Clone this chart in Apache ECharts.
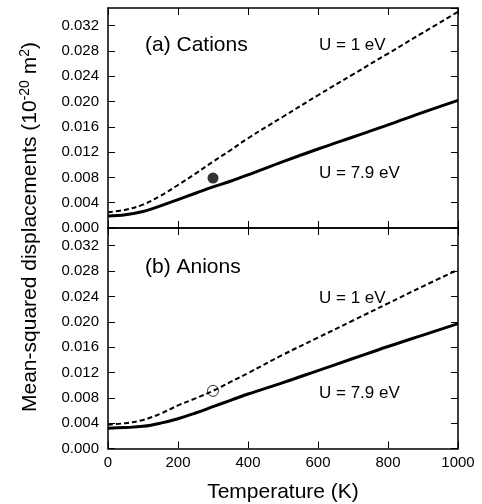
<!DOCTYPE html>
<html><head><meta charset="utf-8">
<script src="https://cdn.jsdelivr.net/npm/echarts@6/dist/echarts.min.js"></script>
<style>html,body{margin:0;padding:0;background:#fff}#c{width:482px;height:504px}</style>
</head><body><div id="c"></div>
<script>
var temps = [0,50,100,150,200,250,300,350,400,500,600,700,800,900,1000];
var cationU79 = [0.0019,0.0021,0.0026,0.0035,0.0045,0.0055,0.0065,0.0074,0.0084,0.0105,0.0125,0.0144,0.0163,0.0183,0.0202];
var cationU1  = [0.0025,0.0029,0.0037,0.0051,0.0068,0.0086,0.0105,0.0123,0.0142,0.0176,0.0210,0.0243,0.0276,0.0309,0.0342];
var anionU79  = [0.0032,0.0033,0.0035,0.0040,0.0047,0.0056,0.0066,0.0076,0.0086,0.0104,0.0123,0.0142,0.0161,0.0179,0.0197];
var anionU1   = [0.0038,0.0040,0.0045,0.0055,0.0068,0.0079,0.0091,0.0105,0.0119,0.0148,0.0175,0.0202,0.0229,0.0256,0.0282];
var cationExp = [[300,0.0079]];
var anionExp  = [[300,0.0091]];
var xTicks = [0,200,400,600,800,1000];
var yTicks = [0,0.004,0.008,0.012,0.016,0.020,0.024,0.028,0.032];

var FONT = '"Liberation Sans", Arial, Helvetica, sans-serif';
function zip(xs, ys){ return xs.map(function(x,i){return [x, ys[i]];}); }

var axLine = {show:true, onZero:false, lineStyle:{color:'#000', width:1.5}};
var tick = {show:true, inside:true, length:7, lineStyle:{color:'#000', width:1}};
function xAx(grid, pos, labels){
  return {type:'value', gridIndex:grid, position:pos, min:0, max:1000, interval:200,
    axisLine:axLine, axisTick:tick, splitLine:{show:false},
    axisLabel:{show:labels, color:'#000', fontSize:15, fontFamily:FONT, margin:7,
      formatter:function(v){ return String(v); }}};
}
function yAx(grid, pos, labels){
  return {type:'value', gridIndex:grid, position:pos, min:0, max:0.0348, interval:0.004,
    axisLine:axLine, axisTick:tick, splitLine:{show:false},
    axisLabel:{show:labels, showMaxLabel:false, color:'#000', fontSize:15, fontFamily:FONT, margin:9,
      formatter:function(v){ return v.toFixed(3); }}};
}
function lineS(xi, yi, data, dashed){
  return {type:'line', xAxisIndex:xi, yAxisIndex:yi, data:data, showSymbol:false, smooth:0.4,
    lineStyle:{color:'#000', width: dashed?2:3, type: dashed?[5,3]:'solid'}, silent:true, z:2};
}

var chart = echarts.init(document.getElementById('c'), null, {renderer:'canvas'});
chart.setOption({
  animation:false,
  grid:[{left:108, right:24, top:8, height:220},{left:108, right:24, top:228, height:220.5}],
  xAxis:[xAx(0,'bottom',false), xAx(0,'top',false), xAx(1,'bottom',true), xAx(1,'top',false)],
  yAxis:[yAx(0,'left',true), yAx(0,'right',false), yAx(1,'left',true), yAx(1,'right',false)],
  series:[
    lineS(0,0,zip(temps,cationU1),true),
    lineS(0,0,zip(temps,cationU79),false),
    lineS(2,2,zip(temps,anionU1),true),
    lineS(2,2,zip(temps,anionU79),false),
    {type:'scatter', xAxisIndex:0, yAxisIndex:0, data:cationExp, symbol:'circle', symbolSize:11,
      itemStyle:{color:'#000'}, z:3},
    {type:'scatter', xAxisIndex:2, yAxisIndex:2, data:anionExp, symbol:'circle', symbolSize:11,
      itemStyle:{color:'rgba(0,0,0,0)', borderColor:'#000', borderWidth:1}, z:3}
  ],
  graphic:[
    {type:'text', x:283, y:492, style:{text:'Temperature (K)', fill:'#000', font:'21px '+FONT, align:'center', verticalAlign:'middle'}},
    {type:'text', x:30, y:227, rotation:Math.PI/2,
      style:{text:'Mean-squared displacements (10{sup|-20} m{sup|2})', fill:'#000', font:'21px '+FONT,
        align:'center', verticalAlign:'middle',
        rich:{sup:{fontSize:14, fontFamily:FONT, fill:'#000', verticalAlign:'top', lineHeight:24}}}},
    {type:'text', x:145, y:45, style:{text:'(a) Cations', fill:'#000', font:'21px '+FONT, verticalAlign:'middle'}},
    {type:'text', x:319, y:45, style:{text:'U = 1 eV', fill:'#000', font:'17px '+FONT, verticalAlign:'middle'}},
    {type:'text', x:319, y:173, style:{text:'U = 7.9 eV', fill:'#000', font:'17px '+FONT, verticalAlign:'middle'}},
    {type:'text', x:145, y:267, style:{text:'(b) Anions', fill:'#000', font:'21px '+FONT, verticalAlign:'middle'}},
    {type:'text', x:319, y:298, style:{text:'U = 1 eV', fill:'#000', font:'17px '+FONT, verticalAlign:'middle'}},
    {type:'text', x:319, y:393, style:{text:'U = 7.9 eV', fill:'#000', font:'17px '+FONT, verticalAlign:'middle'}}
  ]
});
</script></body></html>
